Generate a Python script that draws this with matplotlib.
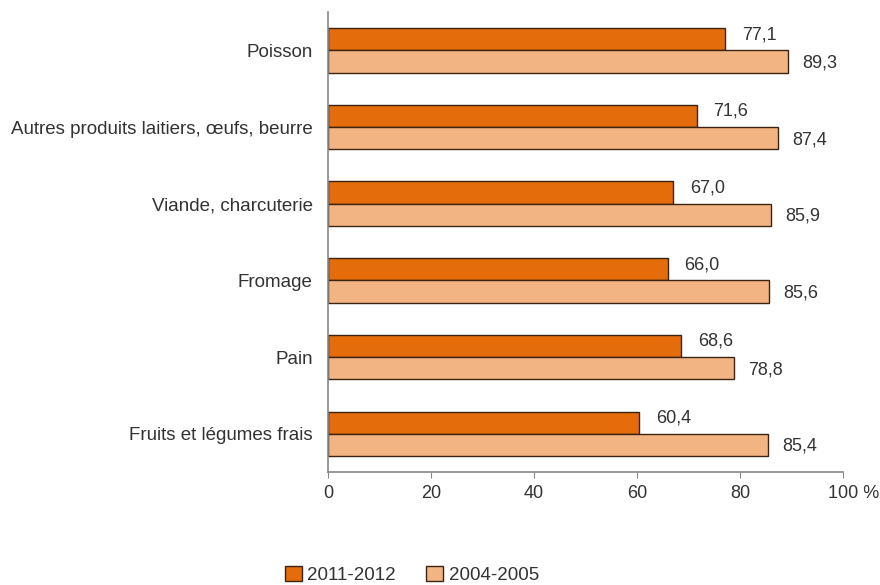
import numpy as np
from matplotlib import pyplot as plt
from matplotlib.transforms import ScaledTranslation

plt.rcParams['font.family'] = ['Liberation Sans', 'DejaVu Sans']

categories = ["Poisson", "Autres produits laitiers, œufs, beurre", "Viande, charcuterie",
              "Fromage", "Pain", "Fruits et légumes frais"]
values_2011 = [77.1, 71.6, 67.0, 66.0, 68.6, 60.4]
values_2004 = [89.3, 87.4, 85.9, 85.6, 78.8, 85.4]
series_labels = ["2011-2012", "2004-2005"]
xticks = [0, 20, 40, 60, 80, 100]


def fmt(v):
    return f"{v:.1f}".replace(".", ",")


fig = plt.figure(figsize=(8.8, 5.85), dpi=100)
ax = fig.add_axes([0.3727, 0.193, 0.5855, 0.7865])

txt = "#333333"
fs = 13
y = np.arange(len(categories))
h = 0.29
edge = "#3b2414"
b1 = ax.barh(y - h / 2, values_2011, height=h, color="#E46C0A", edgecolor=edge,
             linewidth=1, label=series_labels[0])
b2 = ax.barh(y + h / 2, values_2004, height=h, color="#F2B482", edgecolor=edge,
             linewidth=1, label=series_labels[1])

for yi, v in zip(y, values_2011):
    ax.text(v + 3.2, yi - h / 2 - 0.06, fmt(v), va="center", ha="left",
            fontsize=fs, color=txt)
for yi, v in zip(y, values_2004):
    ax.text(v + 2.8, yi + h / 2 + 0.02, fmt(v), va="center", ha="left",
            fontsize=fs, color=txt)

ax.set_ylim(len(categories) - 0.5, -0.5)
ax.set_xlim(0, 100)
ax.set_yticks(y)
ax.set_yticklabels(categories, fontsize=13.5, color=txt)
ax.set_xticks(xticks)
ax.set_xticklabels([str(t) if t < 100 else "100 %" for t in xticks],
                   fontsize=fs, color=txt)
ax.tick_params(axis="y", length=0, pad=11)
ax.tick_params(axis="x", length=4, color="#888888", pad=5)

# "100 %" sits with the number over the tick, the % hangs to the right
lab = ax.get_xticklabels()[-1]
lab.set_transform(lab.get_transform() + ScaledTranslation(0.1, 0, fig.dpi_scale_trans))

for s in ["top", "right"]:
    ax.spines[s].set_visible(False)
for s in ["left", "bottom"]:
    ax.spines[s].set_color("#888888")
    ax.spines[s].set_linewidth(1.2)

fig.legend(handles=[b1, b2], labels=series_labels, loc="center",
           bbox_to_anchor=(0.468, 0.017), ncol=2, frameon=False, fontsize=13.5,
           handlelength=0.9, handleheight=0.9, columnspacing=1.6, handletextpad=0.3,
           labelcolor=txt)

plt.savefig("out.png", dpi=100)
